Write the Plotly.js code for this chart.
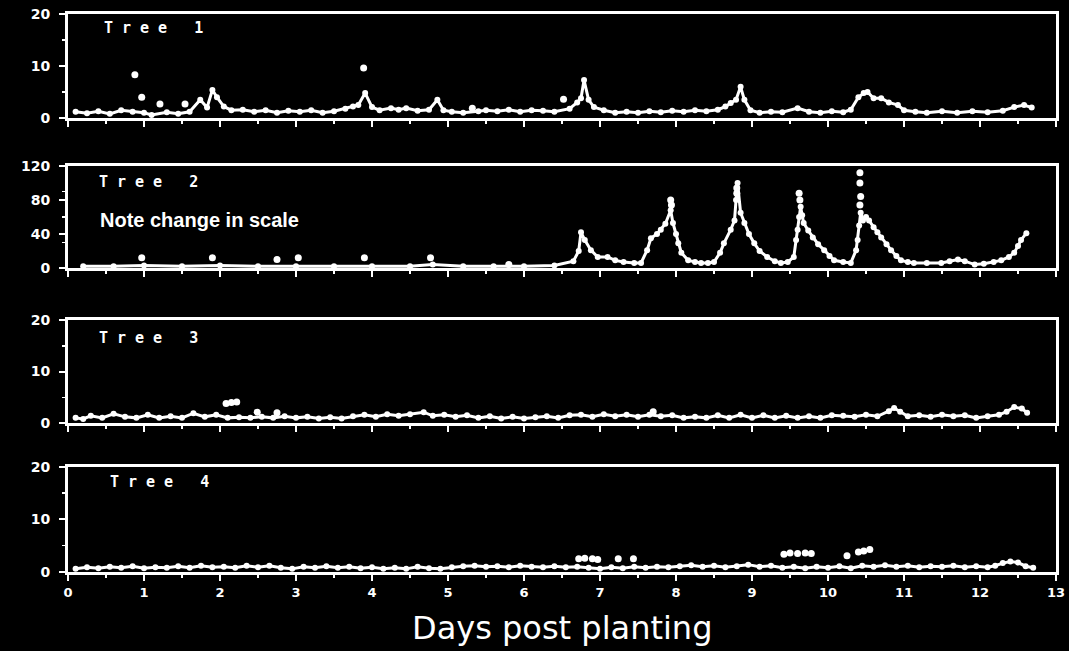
<!DOCTYPE html>
<html><head><meta charset="utf-8">
<script src="https://cdn.plot.ly/plotly-3.0.1.min.js"></script>
<style>html,body{margin:0;padding:0;background:#000;}#chart{width:1069px;height:651px;}</style>
</head><body><div id="chart"></div>
<script>
// ---------- DATA ----------
const treeNames = ['Tree 1', 'Tree 2', 'Tree 3', 'Tree 4'];
const noteText = 'Note change in scale';
const xTitle = 'Days post planting';
const xTickVals = [0,1,2,3,4,5,6,7,8,9,10,11,12,13];
const xTickText = ['0','1','2','3','4','5','6','7','8','9','10','11','12','13'];
const yMax = [20, 120, 20, 20];
const yTickVals = [[0,10,20],[0,40,80,120],[0,10,20],[0,10,20]];
const yTickText = [['0','10','20'],['0','40','80','120'],['0','10','20'],['0','10','20']];

// [day, value] pairs, continuous record
const tree1Line = [[0.1,1.2],[0.25,0.9],[0.4,1.3],[0.55,0.8],[0.7,1.5],[0.85,1.2],[1.0,1.0],[1.1,0.6],[1.3,1.1],[1.45,0.8],[1.6,1.2],[1.74,3.5],[1.83,2.0],[1.9,5.4],[1.96,4.0],[2.05,2.2],[2.15,1.5],[2.3,1.6],[2.45,1.2],[2.6,1.5],[2.75,1.0],[2.9,1.4],[3.05,1.2],[3.2,1.5],[3.35,1.0],[3.5,1.3],[3.65,1.8],[3.75,2.2],[3.82,2.5],[3.91,4.8],[4.0,2.1],[4.1,1.5],[4.25,1.9],[4.35,1.6],[4.45,1.9],[4.6,1.4],[4.75,1.6],[4.86,3.5],[4.94,1.5],[5.05,1.2],[5.2,1.0],[5.4,1.3],[5.5,1.5],[5.65,1.3],[5.8,1.6],[5.95,1.2],[6.1,1.5],[6.25,1.4],[6.4,1.2],[6.6,1.8],[6.7,3.0],[6.75,3.8],[6.79,7.3],[6.85,3.5],[6.92,2.1],[7.05,1.5],[7.2,1.0],[7.35,1.2],[7.5,1.0],[7.65,1.3],[7.8,1.1],[7.95,1.4],[8.1,1.2],[8.25,1.5],[8.4,1.3],[8.55,1.6],[8.65,2.2],[8.72,2.9],[8.79,3.5],[8.85,6.0],[8.9,3.5],[8.98,1.5],[9.1,1.0],[9.25,1.2],[9.4,1.1],[9.6,1.9],[9.75,1.2],[9.9,1.0],[10.05,1.3],[10.2,1.1],[10.3,1.6],[10.4,4.0],[10.47,4.8],[10.52,5.0],[10.6,3.8],[10.7,3.8],[10.8,3.0],[10.92,2.5],[11.0,1.5],[11.15,1.2],[11.3,1.0],[11.5,1.3],[11.7,1.0],[11.9,1.3],[12.1,1.1],[12.3,1.4],[12.45,2.1],[12.58,2.5],[12.68,2.0]];
const tree1Dots = [[0.88,8.3],[0.97,4.0],[1.21,2.7],[1.54,2.7],[3.89,9.6],[5.32,1.9],[6.52,3.6]];

const tree2Line = [[0.2,2],[0.6,2],[1.0,3],[1.5,2],[2.0,3],[2.5,2],[3.0,2],[3.5,2],[4.0,2],[4.5,2],[4.8,4],[5.2,2],[5.6,2],[6.0,2],[6.4,3],[6.65,8],[6.72,20],[6.75,42],[6.8,33],[6.88,21],[6.97,13],[7.1,13],[7.2,9],[7.31,7],[7.45,6],[7.54,6],[7.62,21],[7.67,35],[7.75,40],[7.8,45],[7.86,52],[7.93,68],[7.96,53],[8.0,40],[8.03,29],[8.07,18],[8.16,9],[8.25,7],[8.33,6],[8.42,6],[8.5,7],[8.58,18],[8.63,29],[8.72,45],[8.77,56],[8.79,80],[8.81,100],[8.85,65],[8.9,53],[8.96,40],[9.03,29],[9.1,20],[9.2,13],[9.3,8],[9.38,6],[9.47,7],[9.55,13],[9.58,33],[9.6,45],[9.62,60],[9.64,72],[9.66,62],[9.68,53],[9.74,44],[9.8,36],[9.87,28],[9.95,21],[10.02,14],[10.08,9],[10.2,7],[10.3,6],[10.37,21],[10.39,33],[10.41,50],[10.43,65],[10.46,56],[10.5,60],[10.54,56],[10.6,48],[10.65,42],[10.7,36],[10.77,28],[10.83,21],[10.9,14],[10.96,9],[11.05,7],[11.13,6],[11.3,6],[11.49,6],[11.6,8],[11.71,10],[11.8,8],[11.93,4],[12.05,5],[12.18,7],[12.28,9],[12.38,13],[12.45,18],[12.5,26],[12.54,33],[12.61,41]];
const tree2Dots = [[0.97,12],[1.9,12],[2.75,10],[3.03,12],[3.9,12],[4.77,12],[5.8,4],[7.93,80],[7.94,74],[8.8,94],[8.8,88],[9.62,88],[9.63,80],[10.42,112],[10.42,100],[10.43,84],[10.42,74]];

const tree3Line = [[0.1,1.0],[0.2,0.8],[0.3,1.4],[0.45,1.0],[0.6,1.8],[0.75,1.2],[0.9,1.0],[1.05,1.6],[1.2,1.0],[1.35,1.3],[1.5,1.0],[1.65,1.9],[1.8,1.2],[1.95,1.6],[2.1,1.0],[2.25,1.1],[2.4,1.0],[2.55,1.2],[2.7,1.0],[2.85,1.3],[3.0,1.0],[3.15,1.2],[3.3,0.9],[3.45,1.1],[3.6,0.9],[3.75,1.3],[3.9,1.6],[4.05,1.2],[4.2,1.7],[4.35,1.4],[4.5,1.7],[4.68,2.1],[4.8,1.4],[4.95,1.6],[5.1,1.2],[5.25,1.5],[5.4,1.0],[5.55,1.3],[5.7,0.9],[5.85,1.2],[6.0,0.9],[6.15,1.1],[6.3,1.3],[6.45,1.0],[6.6,1.5],[6.75,1.6],[6.9,1.2],[7.05,1.7],[7.2,1.3],[7.35,1.6],[7.5,1.2],[7.65,1.6],[7.8,1.3],[7.95,1.5],[8.1,1.0],[8.25,1.2],[8.4,1.0],[8.55,1.5],[8.7,1.0],[8.85,1.6],[9.0,1.0],[9.15,1.5],[9.3,1.0],[9.45,1.4],[9.6,1.0],[9.75,1.3],[9.9,1.0],[10.05,1.5],[10.2,1.4],[10.35,1.2],[10.5,1.6],[10.65,1.3],[10.8,2.3],[10.87,2.9],[10.95,2.2],[11.05,1.3],[11.2,1.5],[11.35,1.2],[11.5,1.6],[11.65,1.3],[11.8,1.5],[11.95,1.0],[12.1,1.3],[12.25,1.6],[12.35,2.2],[12.45,3.1],[12.55,2.8],[12.62,2.0]];
const tree3Dots = [[2.08,3.8],[2.15,4.0],[2.22,4.1],[2.49,2.1],[2.75,2.0],[7.7,2.2]];

const tree4Line = [[0.1,0.6],[0.25,0.9],[0.4,0.7],[0.55,1.0],[0.7,0.8],[0.85,1.1],[1.0,0.7],[1.15,0.9],[1.3,0.8],[1.45,1.1],[1.6,0.8],[1.75,1.2],[1.9,0.9],[2.05,1.0],[2.2,0.8],[2.35,1.2],[2.5,0.9],[2.65,1.2],[2.8,0.8],[2.95,0.6],[3.1,1.0],[3.25,0.8],[3.4,1.1],[3.55,0.8],[3.7,1.0],[3.85,0.7],[4.0,0.9],[4.15,0.6],[4.3,0.8],[4.45,0.6],[4.6,1.0],[4.75,0.7],[4.9,0.6],[5.05,0.9],[5.2,1.1],[5.35,1.2],[5.5,1.0],[5.65,1.1],[5.8,0.9],[5.95,1.2],[6.1,1.0],[6.25,0.9],[6.4,1.1],[6.55,0.9],[6.7,1.0],[6.85,0.8],[7.0,0.6],[7.15,0.9],[7.3,0.7],[7.45,1.0],[7.6,0.8],[7.75,1.0],[7.9,0.9],[8.05,1.1],[8.2,1.3],[8.35,1.0],[8.5,1.2],[8.65,0.9],[8.8,1.1],[8.95,1.4],[9.1,1.0],[9.25,1.2],[9.4,0.8],[9.55,1.0],[9.7,0.7],[9.85,1.0],[10.0,0.8],[10.15,1.1],[10.3,0.7],[10.45,1.2],[10.6,1.0],[10.75,1.3],[10.9,1.0],[11.05,1.2],[11.2,0.9],[11.35,1.1],[11.5,1.0],[11.65,1.2],[11.8,0.9],[11.95,1.1],[12.1,0.9],[12.2,1.2],[12.3,1.7],[12.4,2.0],[12.5,1.8],[12.6,1.1],[12.7,0.8]];
const tree4Dots = [[6.72,2.5],[6.8,2.6],[6.9,2.5],[6.97,2.4],[7.24,2.5],[7.44,2.5],[9.42,3.4],[9.5,3.6],[9.6,3.5],[9.7,3.6],[9.78,3.5],[10.25,3.1],[10.4,3.8],[10.47,4.0],[10.55,4.3]];

const lineSets = [tree1Line, tree2Line, tree3Line, tree4Line];
const dotSets = [tree1Dots, tree2Dots, tree3Dots, tree4Dots];

// ---------- LAYOUT ----------
const domains = [[0.8136,1],[0.5448,0.7276],[0.267,0.4516],[0,0.1882]];
const labelPos = [[0.062,0.865],[0.057,0.843],[0.057,0.825],[0.068,0.856]];
const W = 'white';
const traces = [];
const layout = {
  width: 1069, height: 651,
  paper_bgcolor: '#000', plot_bgcolor: '#000',
  margin: {l: 68, r: 13, t: 14, b: 79},
  showlegend: false,
  font: {color: W, family: 'DejaVu Sans', size: 13},
  annotations: []
};
for (let i = 0; i < 4; i++) {
  const s = i === 0 ? '' : String(i + 1);
  traces.push({x: lineSets[i].map(p => p[0]), y: lineSets[i].map(p => p[1]), xaxis: 'x' + s, yaxis: 'y' + s,
    type: 'scatter', mode: 'lines+markers', line: {color: W, width: 3}, marker: {color: W, size: 6}});
  traces.push({x: dotSets[i].map(p => p[0]), y: dotSets[i].map(p => p[1]), xaxis: 'x' + s, yaxis: 'y' + s,
    type: 'scatter', mode: 'markers', marker: {color: W, size: 7}});
  layout['xaxis' + s] = {
    domain: [0, 1], range: [0, 13], anchor: 'y' + s, showline: true, linecolor: W, linewidth: 3, mirror: true,
    showgrid: false, zeroline: false, ticks: 'outside', tickcolor: W, tickwidth: 2, ticklen: 6,
    tickmode: 'array', tickvals: xTickVals, ticktext: xTickText, showticklabels: i === 3,
    tickfont: {family: 'DejaVu Sans', size: 13, color: W, weight: 'bold'},
    minor: {ticks: 'outside', tickmode: 'linear', tick0: 0, dtick: 0.5, ticklen: 3, tickcolor: W, tickwidth: 1.5},
    matches: i === 0 ? undefined : 'x'
  };
  layout['yaxis' + s] = {
    domain: domains[i], range: [0, yMax[i]], anchor: 'x' + s, showline: true, linecolor: W, linewidth: 3, mirror: true,
    showgrid: false, zeroline: false, ticks: 'outside', tickcolor: W, tickwidth: 2, ticklen: 6,
    tickmode: 'array', tickvals: yTickVals[i], ticktext: yTickText[i], ticklabelstandoff: 6,
    tickfont: {family: 'DejaVu Sans', size: 14, color: W, weight: 'bold'},
    minor: {ticks: 'outside', tickmode: 'linear', tick0: 0, dtick: yMax[i] / 4, ticklen: 3, tickcolor: W, tickwidth: 1.5}
  };
  layout.annotations.push({
    text: treeNames[i], xref: 'x' + s + ' domain', yref: 'y' + s + ' domain',
    x: labelPos[i][0], y: labelPos[i][1], xanchor: 'left', yanchor: 'middle', showarrow: false,
    font: {family: 'DejaVu Sans Mono', size: 15, color: W, weight: 'bold'}
  });
}
layout.annotations.push({
  text: noteText, xref: 'x2 domain', yref: 'y2 domain', x: 0.03, y: 0.47, xanchor: 'left', yanchor: 'middle',
  showarrow: false, font: {family: 'Liberation Sans', size: 20, color: W, weight: 'bold'}
});
layout.annotations.push({
  text: xTitle, xref: 'paper', yref: 'paper', x: 0.5, y: -0.1, xanchor: 'center', yanchor: 'middle',
  showarrow: false, font: {family: 'DejaVu Sans', size: 32, color: W}
});

Plotly.newPlot('chart', traces, layout, {staticPlot: true}).then(() => {
  document.querySelectorAll('.annotation-text').forEach(t => {
    if (/^Tree/.test(t.textContent)) t.style.letterSpacing = '9px';
  });
});
</script>
</body></html>
